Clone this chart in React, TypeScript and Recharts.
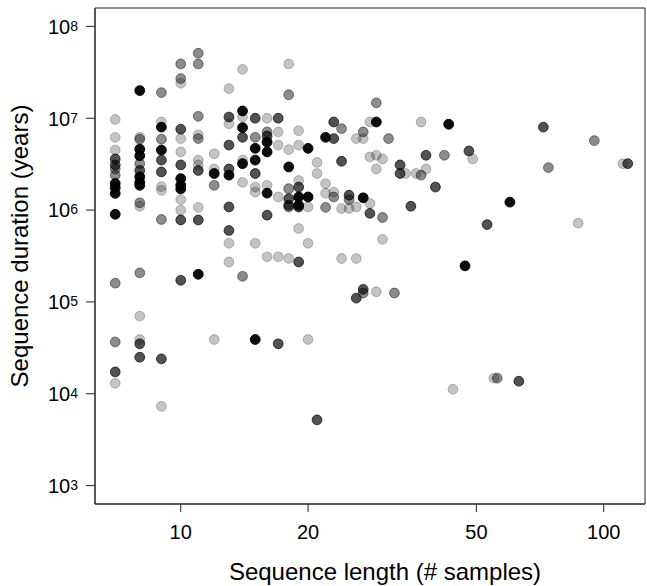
import React from 'react';
import { ScatterChart, Scatter, XAxis, YAxis, Label, ReferenceArea } from 'recharts';

// [sequence length, sequence duration (years)] per shade
const lightPoints: [number, number][] = [
  [7, 9.7e6], [7, 6.2e6], [7, 4.5e6], [7, 1.3e4],
  [8, 6.2e6], [8, 1.1e6], [8, 7.0e4], [8, 3.9e4],
  [9, 9.1e6], [9, 1.8e6], [9, 1.64e6], [9, 7.3e3],
  [10, 2.4e7], [10, 6.0e6], [10, 4.3e6], [10, 1.3e6], [10, 1.0e6],
  [11, 6.6e6], [11, 3.5e6], [11, 3.1e6], [11, 1.07e6],
  [12, 4.1e6], [12, 2.8e6], [12, 3.9e4],
  [13, 2.1e7], [13, 8.7e6], [13, 4.35e5], [13, 2.72e5],
  [14, 3.4e7], [14, 1.03e7], [14, 3.5e6], [14, 2.0e6],
  [15, 1.78e6], [15, 1.57e6], [15, 4.35e5],
  [16, 1.0e7], [16, 1.86e6], [16, 3.1e5],
  [17, 7.1e6], [17, 5.1e6], [17, 1.39e6], [17, 3.1e5],
  [18, 3.9e7], [18, 4.55e6], [18, 2.97e5],
  [19, 7.3e6], [19, 5.1e6], [19, 2.1e6], [19, 6.3e5],
  [20, 1.08e6], [20, 4.35e5], [20, 3.9e4],
  [21, 3.3e6], [21, 2.5e6],
  [22, 1.94e6], [22, 1.53e6],
  [23, 1.57e6],
  [24, 1.04e6], [24, 2.97e5],
  [25, 1.04e6],
  [26, 6.0e6], [26, 1.08e6], [26, 2.97e5],
  [27, 6.0e6],
  [28, 9.1e6], [28, 3.8e6], [28, 1.18e6],
  [29, 3.95e6], [29, 2.8e6], [29, 1.29e5],
  [30, 3.6e6], [30, 4.8e5],
  [34, 2.5e6], [36, 2.5e6], [37, 9.1e6], [38, 2.8e6],
  [44, 1.12e4], [49, 3.6e6], [55, 1.48e4], [87, 7.2e5], [111, 3.2e6],
];

const midPoints: [number, number][] = [
  [7, 2.8e6], [7, 2.4e6], [7, 1.6e5], [7, 3.67e4],
  [8, 5.9e6], [8, 3.2e6], [8, 1.2e6], [8, 2.07e5],
  [9, 1.9e7], [9, 5.9e6], [9, 7.9e5],
  [10, 3.9e7], [10, 2.7e7],
  [11, 5.1e7], [11, 3.9e7], [11, 1.05e7], [11, 6.0e6],
  [12, 1.86e6], [14, 1.9e5], [15, 6.2e6], [16, 7.1e6],
  [18, 1.8e7], [18, 1.71e6], [18, 1.08e6],
  [22, 1.07e6], [23, 1.39e6], [24, 7.7e6], [25, 1.3e6],
  [27, 7.1e6], [27, 1.25e5],
  [29, 1.47e7], [30, 8.3e5], [31, 6.0e6], [32, 1.25e5],
  [37, 2.4e6], [42, 3.95e6], [56, 1.48e4], [74, 2.9e6], [95, 5.7e6],
];

const darkPoints: [number, number][] = [
  [7, 3.6e6], [7, 3.1e6], [7, 1.73e4],
  [8, 2.7e6], [8, 3.5e4], [8, 2.5e4],
  [9, 3.5e6], [9, 2.6e6], [9, 2.4e4],
  [10, 7.6e6], [10, 3.1e6], [10, 7.8e5], [10, 1.72e5],
  [11, 2.7e6], [11, 7.8e5],
  [13, 1.03e7], [13, 5.1e6], [13, 2.8e6], [13, 1.08e6], [13, 6.0e5],
  [14, 6.2e6],
  [15, 1.0e7], [15, 2.5e6],
  [16, 6.4e6], [16, 8.8e5],
  [17, 1.0e7], [17, 3.5e4],
  [18, 1.33e6], [18, 1.13e6],
  [19, 1.78e6], [19, 1.08e6], [19, 2.72e5],
  [21, 5.2e3],
  [23, 9.1e6], [23, 6.0e6],
  [24, 3.4e6], [25, 1.45e6], [26, 1.1e5], [27, 1.37e5], [28, 9.2e5],
  [33, 3.1e6], [33, 2.5e6], [35, 1.1e6], [38, 3.95e6], [40, 1.78e6],
  [48, 4.4e6], [53, 6.95e5], [63, 1.37e4], [72, 8.0e6], [114, 3.2e6],
];

const blackPoints: [number, number][] = [
  [7, 1.95e6], [7, 1.75e6], [7, 1.52e6], [7, 9.0e5],
  [8, 2.0e7], [8, 4.6e6], [8, 3.9e6], [8, 2.3e6], [8, 2.0e6], [8, 1.86e6],
  [9, 8.0e6], [9, 4.5e6],
  [10, 2.2e6], [10, 1.86e6], [10, 1.7e6],
  [11, 2.0e5], [12, 2.5e6], [13, 2.4e6],
  [14, 1.2e7], [14, 7.9e6], [14, 3.2e6],
  [15, 4.7e6], [15, 3.5e6], [15, 3.9e4],
  [16, 5.5e6], [16, 4.3e6], [16, 1.53e6],
  [18, 2.95e6], [19, 1.39e6], [19, 1.13e6],
  [20, 4.7e6], [20, 1.39e6],
  [22, 6.2e6], [27, 1.36e6], [29, 9.1e6], [43, 8.6e6], [47, 2.47e5], [60, 1.22e6],
];

const xTicks = [10, 20, 50, 100];
const yTicks = [1e3, 1e4, 1e5, 1e6, 1e7, 1e8];
const xDomain = [6.27, 125.2];
const yDomain = [Math.pow(10, 2.8), Math.pow(10, 8.2)];

const FONT = '"Liberation Sans", Arial, sans-serif';
const AXIS = '#222';

const toRows = (pts: [number, number][]) => pts.map(([x, y]) => ({ x, y }));

const dot = (alpha: number) => (props: any) => (
  <circle
    cx={props.cx}
    cy={props.cy}
    r={4.9}
    fill="#000"
    fillOpacity={alpha}
    stroke="#000"
    strokeOpacity={alpha}
    strokeWidth={1}
  />
);

const XTick = (props: any) => (
  <text x={props.x} y={539} textAnchor="middle" fontSize={20} fontFamily={FONT} fill="#000">
    {props.payload.value}
  </text>
);

const YTick = (props: any) => {
  const exp = Math.round(Math.log10(props.payload.value));
  return (
    <text x={78} y={props.y + 7.3} textAnchor="end" fontSize={20} fontFamily={FONT} fill="#000">
      10
      <tspan fontSize={14} dy={-3}>{exp}</tspan>
    </text>
  );
};

const App: React.FC = () => {
  return (
    <div style={{ position: 'absolute', left: 0, top: 0, background: '#fff' }}>
      <ScatterChart width={647} height={586} margin={{ top: 8, right: 2, bottom: 0, left: 0 }}>
        <XAxis
          dataKey="x"
          type="number"
          scale="log"
          domain={xDomain}
          ticks={xTicks}
          allowDataOverflow
          height={82}
          tickSize={8}
          axisLine={{ stroke: AXIS }}
          tickLine={{ stroke: AXIS }}
          tick={<XTick />}
        >
          <Label
            content={() => (
              <text x={385} y={580} textAnchor="middle" fontSize={24} fontFamily={FONT} fill="#000">
                Sequence length (# samples)
              </text>
            )}
          />
        </XAxis>
        <YAxis
          dataKey="y"
          type="number"
          scale="log"
          domain={yDomain}
          ticks={yTicks}
          allowDataOverflow
          width={95}
          tickSize={9}
          axisLine={{ stroke: AXIS }}
          tickLine={{ stroke: AXIS }}
          tick={<YTick />}
        >
          <Label
            content={() => (
              <text
                x={27.5}
                y={246}
                transform="rotate(-90 27.5 246)"
                textAnchor="middle"
                fontSize={24}
                fontFamily={FONT}
                fill="#000"
              >
                Sequence duration (years)
              </text>
            )}
          />
        </YAxis>
        {/* box around the plotting region */}
        <ReferenceArea
          x1={xDomain[0]}
          x2={xDomain[1]}
          y1={yDomain[0]}
          y2={yDomain[1]}
          fill="none"
          fillOpacity={0}
          stroke={AXIS}
          strokeWidth={1}
          ifOverflow="visible"
        />
        <Scatter data={toRows(lightPoints)} shape={dot(0.23)} isAnimationActive={false} />
        <Scatter data={toRows(midPoints)} shape={dot(0.45)} isAnimationActive={false} />
        <Scatter data={toRows(darkPoints)} shape={dot(0.68)} isAnimationActive={false} />
        <Scatter data={toRows(blackPoints)} shape={dot(0.95)} isAnimationActive={false} />
      </ScatterChart>
    </div>
  );
};

export default App;
